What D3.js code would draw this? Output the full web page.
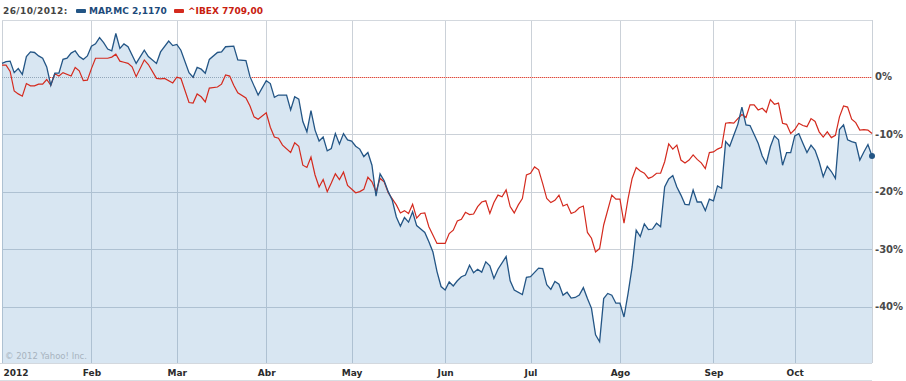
<!DOCTYPE html>
<html>
<head>
<meta charset="utf-8">
<script src="https://cdn.jsdelivr.net/npm/d3@7"></script>
<style>
  body { margin: 0; background: #fff; }
  svg { display: block; font-family: "DejaVu Sans", Verdana, sans-serif; }
</style>
</head>
<body>
<div id="chart"></div>
<script>
// x axis: trading-day index from 2 Jan 2012 to 26 Oct 2012
const monthTicks = [0, 22, 43, 65, 86, 109, 130, 152, 175, 195];
const monthLabels = ["2012", "Feb", "Mar", "Abr", "May", "Jun", "Jul", "Ago", "Sep", "Oct"];
const pctTicks = [0, -10, -20, -30, -40];

const legendDate = "26/10/2012:";
const seriesNames = ["MAP.MC 2,1170", "^IBEX 7709,00"];

// MAP.MC, % change
const mapDays = [0,1,2,3,4,5,6,7,8,9,10,11,12,13,14,15,16,17,18,19,20,21,22,23,24,25,26,27,28,29,30,31,33,35,36,38,39,41,42,43,44,46,47,48,49,50,51,53,54,55,57,58,60,61,63,65,66,67,68,70,71,72,73,74,75,76,77,78,79,80,81,82,83,84,85,86,87,88,89,90,91,92,93,94,95,96,97,98,99,100,101,102,103,104,105,106,107,108,109,110,111,112,113,114,115,116,117,118,119,120,121,122,124,125,126,128,129,130,132,133,134,135,136,137,138,139,140,141,142,143,144,145,146,147,148,149,150,151,152,153,154,155,156,157,158,159,160,161,162,163,164,165,166,167,168,169,170,171,172,173,174,175,176,177,178,179,180,181,182,183,184,186,187,188,189,190,191,192,193,194,195,196,197,198,199,200,201,202,203,204,205,206,207,208,209,210,211,212,213,214];
const mapPct = [2.3,2.6,2.7,0.7,1.4,0.4,3.5,4.3,4.2,3.6,3.2,1.7,-1.5,0.6,0.6,3.0,3.2,4.1,4.5,3.5,3.0,3.6,5.3,5.7,6.8,5.9,4.8,4.5,7.5,4.9,5.7,5.2,2.3,4.6,3.5,2.3,4.3,6.2,5.4,5.6,4.6,0.7,-0.1,1.6,1.3,0.6,3.0,4.2,4.3,5.2,5.3,2.9,2.8,0.0,-3.2,-0.7,-1.2,-3.6,-3.2,-3.2,-5.8,-3.5,-3.9,-7.8,-9.6,-5.9,-9.3,-11.2,-10.5,-12.9,-12.5,-9.9,-11.7,-9.9,-11.0,-11.2,-12.1,-12.6,-13.9,-13.2,-15.4,-20.8,-16.9,-18.1,-20.0,-21.5,-24.4,-26.0,-24.5,-25.3,-23.5,-25.9,-26.5,-27.1,-28.7,-30.5,-33.9,-36.5,-37.1,-35.7,-36.4,-35.5,-34.8,-34.5,-32.8,-34.1,-33.5,-34.0,-32.2,-32.9,-35.1,-33.5,-31.3,-35.5,-37.1,-37.9,-34.9,-34.8,-33.3,-33.4,-36.2,-37.0,-35.6,-36.1,-38.0,-37.5,-38.5,-38.4,-38.0,-36.7,-38.6,-40.3,-44.9,-46.1,-38.6,-37.7,-38.0,-39.4,-39.4,-41.8,-37.7,-33.1,-26.7,-27.8,-25.6,-26.6,-26.5,-25.5,-26.1,-19.2,-17.8,-17.2,-19.2,-20.6,-22.2,-22.3,-19.7,-21.8,-21.8,-23.3,-21.3,-21.6,-19.0,-19.4,-11.3,-12.1,-10.2,-8.3,-5.3,-8.4,-8.5,-11.6,-13.8,-15.1,-12.2,-10.3,-11.0,-15.4,-13.2,-13.2,-10.3,-9.9,-11.6,-13.2,-11.9,-12.8,-14.8,-17.4,-15.6,-16.5,-17.7,-9.2,-8.4,-11.0,-11.3,-11.5,-14.5,-13.1,-11.8,-13.8];

// ^IBEX, % change
const ibexDays = [0,1,2,3,4,5,6,7,8,9,10,11,12,13,14,15,17,18,19,20,21,22,23,25,26,27,28,29,30,31,32,33,35,36,38,39,40,42,43,44,46,47,48,49,50,51,53,54,55,56,57,58,60,61,62,63,65,66,67,68,69,71,72,73,74,75,76,77,78,79,80,81,82,83,84,85,87,88,89,90,91,92,93,94,95,97,98,99,100,101,102,103,104,105,107,108,109,110,111,112,113,114,115,116,117,118,119,120,121,122,123,124,125,126,127,128,129,130,131,132,133,134,135,136,137,138,139,140,141,142,143,144,145,146,147,148,150,151,152,153,154,155,156,157,158,159,160,161,162,163,164,165,166,167,168,169,170,171,172,173,174,175,176,177,178,179,180,181,182,183,184,185,186,187,188,189,190,191,192,193,194,195,196,197,198,199,200,201,202,203,204,205,206,207,208,209,210,211,212,213,214];
const ibexPct = [2.0,2.0,0.9,-2.5,-3.0,-3.4,-1.2,-1.6,-1.6,-1.3,-1.3,-0.5,-1.5,0.5,0.1,0.7,0.1,1.6,1.0,-0.7,-0.6,1.4,3.2,3.2,3.2,3.4,3.9,2.7,2.5,2.3,1.7,0.0,2.9,2.1,-0.3,-0.4,-0.3,-1.1,-0.1,-0.3,-4.5,-4.6,-3.0,-3.5,-4.4,-2.0,-1.8,-1.3,0.3,0.1,-1.5,-2.8,-3.7,-5.1,-7.0,-7.4,-6.3,-8.8,-10.5,-10.7,-11.9,-13.2,-11.5,-12.1,-15.4,-15.8,-14.0,-17.1,-19.2,-17.9,-20.0,-18.5,-16.9,-17.9,-16.6,-18.9,-20.2,-20.0,-19.6,-17.5,-18.3,-20.0,-17.7,-18.3,-20.2,-22.3,-23.7,-23.3,-23.8,-22.2,-24.6,-23.8,-23.7,-26.1,-29.0,-29.0,-29.0,-27.3,-26.7,-25.1,-24.8,-23.6,-24.0,-23.9,-22.6,-21.8,-21.6,-23.8,-21.9,-20.6,-20.9,-19.7,-22.6,-23.7,-22.3,-21.2,-17.1,-16.8,-15.7,-16.2,-18.6,-21.2,-21.9,-21.5,-20.6,-22.5,-22.2,-23.8,-23.5,-22.8,-22.5,-27.1,-28.1,-30.5,-29.9,-25.8,-20.6,-21.3,-21.3,-25.5,-21.2,-17.7,-15.8,-16.4,-16.8,-17.7,-17.4,-16.8,-16.8,-14.8,-11.7,-12.6,-11.9,-14.5,-15.0,-14.5,-13.6,-14.4,-15.0,-16.0,-13.2,-13.1,-12.6,-12.3,-8.1,-8.0,-8.1,-7.3,-6.6,-7.1,-4.9,-4.9,-5.8,-5.5,-6.2,-4.0,-4.8,-4.6,-8.1,-8.3,-9.9,-9.2,-8.1,-8.5,-8.7,-7.3,-7.8,-9.6,-10.5,-9.6,-10.6,-10.2,-7.0,-5.1,-5.3,-7.4,-8.0,-9.3,-9.2,-9.3,-9.9];

const W = 906, H = 381;
const plot = { left: 2, right: 872, top: 20, bottom: 363 };
const blue = "#235585", red = "#d42a1e";

const svg = d3.select("#chart").append("svg").attr("width", W).attr("height", H);

const x = d3.scaleLinear().domain([0, 214]).range([plot.left, plot.right]);
const y = d3.scaleLinear().domain([-49.8, 9.85]).range([plot.bottom, plot.top]);
const crisp = v => Math.round(v) + 0.5;

const mapData = mapDays.map((d, i) => ({ d: d, v: mapPct[i] }));
const ibexData = ibexDays.map((d, i) => ({ d: d, v: ibexPct[i] }));

// grid
svg.append("g").selectAll("line")
  .data(pctTicks.filter(t => t !== 0))
  .join("line")
    .attr("x1", plot.left).attr("x2", plot.right)
    .attr("y1", d => crisp(y(d))).attr("y2", d => crisp(y(d)))
    .attr("stroke", "#cbd1d8");

svg.append("g").selectAll("line")
  .data(monthTicks.concat([214]))
  .join("line")
    .attr("x1", d => crisp(x(d))).attr("x2", d => crisp(x(d)))
    .attr("y1", plot.top).attr("y2", plot.bottom)
    .attr("stroke", "#cbd1d8");

svg.append("line")
  .attr("x1", plot.left).attr("x2", plot.right)
  .attr("y1", plot.top + 0.5).attr("y2", plot.top + 0.5)
  .attr("stroke", "#d3d8de");
svg.append("line")
  .attr("x1", 0).attr("x2", plot.right)
  .attr("y1", plot.bottom + 0.5).attr("y2", plot.bottom + 0.5)
  .attr("stroke", "#d3d8de");
svg.append("line")
  .attr("x1", 0).attr("x2", plot.right)
  .attr("y1", H - 0.5).attr("y2", H - 0.5)
  .attr("stroke", "#d9dde2");

// zero line: grey where it runs inside the MAP.MC fill, red where above it
const zeroSegs = [];
let segStart = mapData[0].d, inFill = mapData[0].v >= 0;
for (let i = 1; i < mapData.length; i++) {
  const a = mapData[i - 1], b = mapData[i];
  const s = b.v >= 0;
  if (s !== inFill) {
    const xc = a.d + (a.v / (a.v - b.v)) * (b.d - a.d);
    zeroSegs.push({ from: segStart, to: xc, inFill: inFill });
    segStart = xc; inFill = s;
  }
}
zeroSegs.push({ from: segStart, to: 214, inFill: inFill });

const zeroY = crisp(y(0));
const zero = svg.append("g").selectAll("g").data(zeroSegs).join("g");
zero.filter(d => !d.inFill).append("line")
  .attr("x1", d => Math.round(x(d.from))).attr("x2", d => Math.round(x(d.to)))
  .attr("y1", zeroY).attr("y2", zeroY)
  .attr("stroke", "#f3c4be");
zero.append("line")
  .attr("x1", d => Math.round(x(d.from)) + (Math.round(x(d.from)) % 2)).attr("x2", d => Math.round(x(d.to)))
  .attr("y1", zeroY).attr("y2", zeroY)
  .attr("stroke", d => d.inFill ? "#a9b0b7" : "#e0483c")
  .attr("stroke-dasharray", "1,1");

// area under MAP.MC
const area = d3.area().x(d => x(d.d)).y0(plot.bottom).y1(d => y(d.v));
svg.append("path")
  .attr("d", area(mapData))
  .attr("fill", "rgb(60,130,190)")
  .attr("fill-opacity", 0.2);

svg.append("text")
  .attr("x", 5).attr("y", 359)
  .attr("font-size", 8.5)
  .attr("fill", "#a7b3be")
  .text("© 2012 Yahoo! Inc.");

// lines
const line = d3.line().x(d => x(d.d)).y(d => y(d.v));
svg.append("path")
  .attr("d", line(ibexData))
  .attr("fill", "none").attr("stroke", red).attr("stroke-width", 1.2);
svg.append("path")
  .attr("d", line(mapData))
  .attr("fill", "none").attr("stroke", blue).attr("stroke-width", 1.3);

const last = mapData[mapData.length - 1];
svg.append("circle")
  .attr("cx", x(last.d)).attr("cy", y(last.v)).attr("r", 3)
  .attr("fill", blue);

// axes
const yAxis = svg.append("g")
  .attr("transform", `translate(${plot.right},0)`)
  .call(d3.axisRight(y).tickValues(pctTicks).tickFormat(d => d + "%").tickSize(0).tickPadding(3));
yAxis.select(".domain").remove();
yAxis.selectAll("text")
  .attr("font-family", "DejaVu Sans, Verdana, sans-serif")
  .attr("font-size", 10).attr("font-weight", "bold").attr("fill", "#4a4a4a");

const xAxis = svg.append("g")
  .attr("transform", `translate(0,${plot.bottom})`)
  .call(d3.axisBottom(x).tickValues(monthTicks).tickFormat((d, i) => monthLabels[i]).tickSize(0).tickPadding(7));
xAxis.select(".domain").remove();
xAxis.selectAll("text")
  .attr("font-family", "DejaVu Sans, Verdana, sans-serif")
  .attr("font-size", 9).attr("font-weight", "bold").attr("fill", "#2b2b2b")
  .attr("text-anchor", (d, i) => i === 0 ? "start" : "middle")
  .attr("dx", (d, i) => i === 0 ? 1 : 0);

// legend
const legend = svg.append("g").attr("font-size", 9).attr("font-weight", "bold");
legend.append("text").attr("x", 3).attr("y", 14).attr("fill", "#444")
  .attr("letter-spacing", 0.4).text(legendDate);
legend.append("rect").attr("x", 76).attr("y", 9).attr("width", 10).attr("height", 4).attr("rx", 1).attr("fill", blue);
legend.append("text").attr("x", 89).attr("y", 14).attr("fill", "#1d4a7a").text(seriesNames[0]);
legend.append("rect").attr("x", 174).attr("y", 9).attr("width", 10).attr("height", 4).attr("rx", 1).attr("fill", red);
legend.append("text").attr("x", 188).attr("y", 14).attr("fill", "#c8200f").text(seriesNames[1]);
</script>
</body>
</html>
